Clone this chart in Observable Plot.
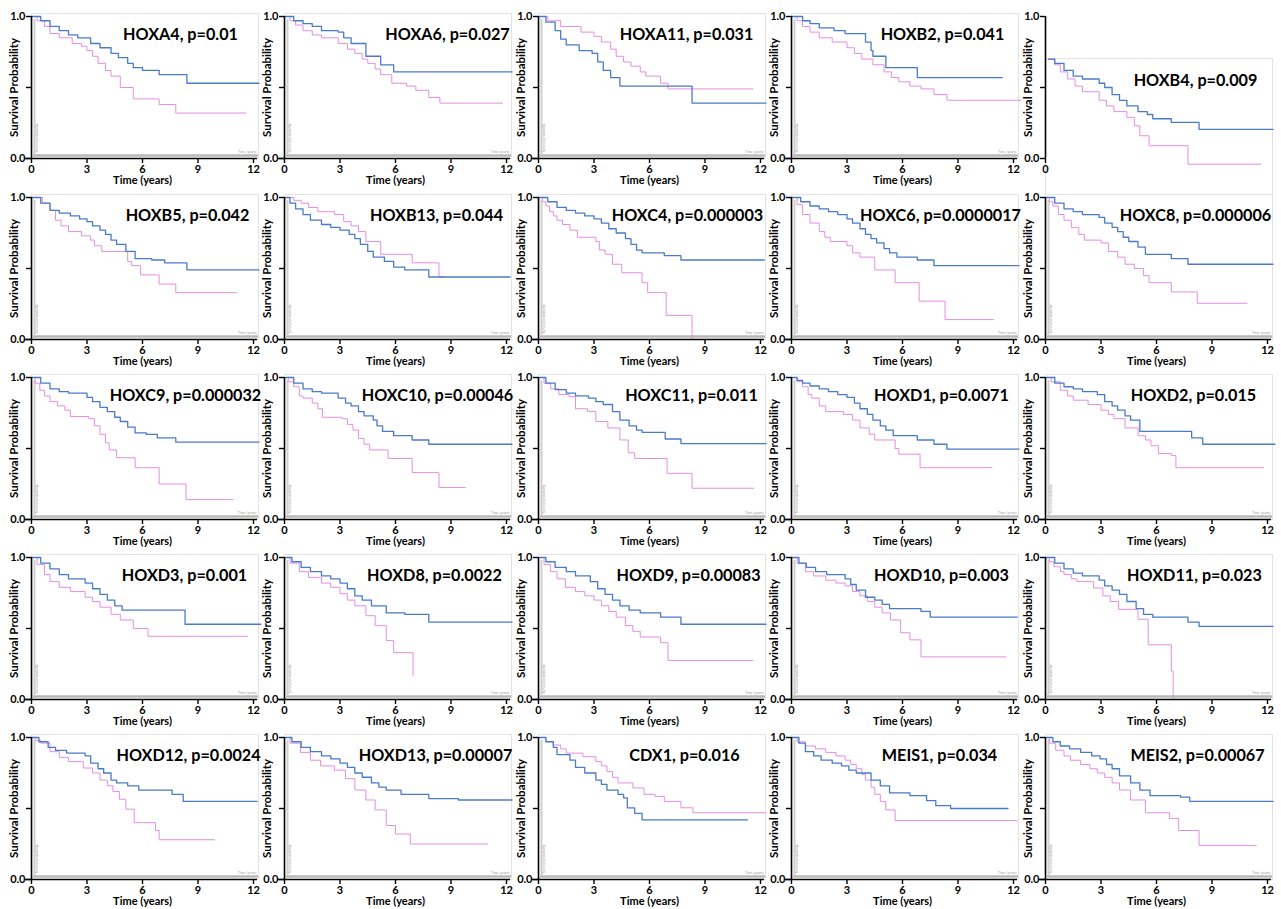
<!DOCTYPE html>
<html>
<head>
<meta charset="utf-8">
<script src="https://cdn.jsdelivr.net/npm/d3@7"></script>
<script src="https://cdn.jsdelivr.net/npm/@observablehq/plot@0.6"></script>
<style>
  html, body { margin: 0; padding: 0; background: #fff; }
  #grid { position: relative; width: 1281px; height: 909px; background: #fff; overflow: hidden; }
  #grid > div { position: absolute; }
  #grid svg { overflow: visible; }
</style>
</head>
<body>
<div id="grid"></div>
<script>
// ---------- DATA ----------
const genes = ["HOXA4","HOXA6","HOXA11","HOXB2","HOXB4",
               "HOXB5","HOXB13","HOXC4","HOXC6","HOXC8",
               "HOXC9","HOXC10","HOXC11","HOXD1","HOXD2",
               "HOXD3","HOXD8","HOXD9","HOXD10","HOXD11",
               "HOXD12","HOXD13","CDX1","MEIS1","MEIS2"];
const pValues = ["0.01","0.027","0.031","0.041","0.009",
                 "0.042","0.044","0.000003","0.0000017","0.000006",
                 "0.000032","0.00046","0.011","0.0071","0.015",
                 "0.001","0.0022","0.00083","0.003","0.023",
                 "0.0024","0.00007","0.016","0.034","0.00067"];
const xTicks = [0, 3, 6, 9, 12];
const yTicks = [0, 0.5, 1];

// Kaplan–Meier steps [time (years), survival] for the blue group
const blueCurves = [
  [[0,1],[0.5,0.97],[1,0.93],[1.5,0.9],[2,0.87],[2.5,0.85],[3,0.85],[3.2,0.81],[3.7,0.78],[4.3,0.74],[4.7,0.71],[5.2,0.67],[5.5,0.64],[6,0.62],[6.9,0.59],[8.4,0.53],[12.3,0.53]],
  [[0,1],[0.5,0.97],[1,0.95],[1.5,0.93],[2,0.9],[2.9,0.89],[3.2,0.85],[3.6,0.81],[4.4,0.72],[5.2,0.66],[5.9,0.61],[12.3,0.61]],
  [[0,1],[0.4,0.96],[0.9,0.9],[1.2,0.84],[1.5,0.8],[2.2,0.76],[2.9,0.74],[3.2,0.68],[3.5,0.62],[3.9,0.57],[4.4,0.51],[8.3,0.39],[12.3,0.39]],
  [[0,1],[0.6,0.97],[1,0.95],[1.5,0.92],[2.3,0.9],[2.9,0.88],[4,0.82],[4.3,0.76],[4.4,0.72],[5.1,0.64],[6.8,0.57],[11.4,0.57]],
  [[0.15,0.7],[0.5,0.67],[1,0.62],[1.5,0.58],[2,0.56],[2.9,0.53],[3.2,0.5],[3.6,0.45],[4,0.41],[4.4,0.37],[5,0.33],[5.5,0.31],[5.8,0.28],[6.8,0.255],[8.3,0.205],[12.3,0.205]],
  [[0,1],[0.5,0.96],[1,0.91],[1.5,0.89],[2.1,0.87],[2.6,0.85],[3,0.83],[3.3,0.8],[3.7,0.77],[4,0.74],[4.3,0.7],[4.6,0.67],[5.1,0.62],[5.6,0.57],[6.5,0.56],[7.2,0.54],[8.4,0.49],[12.3,0.49]],
  [[0,1],[0.3,0.96],[0.6,0.92],[1,0.88],[1.4,0.84],[2,0.81],[2.5,0.79],[3,0.77],[3.5,0.74],[3.8,0.71],[4.1,0.67],[4.5,0.62],[4.8,0.58],[5.4,0.55],[5.9,0.51],[6.5,0.49],[7.8,0.44],[12.2,0.44]],
  [[0,1],[0.5,0.97],[1,0.93],[1.5,0.91],[2,0.89],[2.5,0.87],[3,0.85],[3.4,0.82],[3.8,0.78],[4.2,0.75],[4.7,0.71],[5,0.67],[5.3,0.63],[5.6,0.61],[6.8,0.59],[7.7,0.56],[12.2,0.56]],
  [[0,1],[0.5,0.97],[1,0.94],[1.5,0.92],[2,0.9],[2.5,0.88],[3,0.85],[3.3,0.82],[3.7,0.78],[4,0.74],[4.3,0.71],[4.6,0.68],[5,0.64],[5.3,0.61],[5.7,0.58],[6.8,0.56],[7.7,0.52],[12.3,0.52]],
  [[0,1],[0.5,0.96],[1,0.92],[1.5,0.9],[2,0.88],[2.9,0.86],[3.2,0.82],[3.6,0.79],[3.9,0.76],[4.2,0.72],[4.5,0.69],[5,0.65],[5.4,0.6],[6.8,0.57],[7.7,0.53],[12.3,0.53]],
  [[0,1],[0.5,0.96],[1,0.92],[1.5,0.9],[2,0.89],[3,0.86],[3.3,0.83],[3.7,0.79],[4.1,0.76],[4.5,0.72],[4.8,0.69],[5.2,0.65],[5.6,0.61],[6.2,0.6],[6.8,0.575],[7.8,0.545],[12.3,0.545]],
  [[0,1],[0.5,0.96],[1,0.92],[1.5,0.9],[2,0.89],[2.9,0.855],[3.3,0.82],[3.6,0.8],[4,0.76],[4.3,0.73],[4.8,0.7],[5,0.66],[5.3,0.62],[5.9,0.59],[6.9,0.56],[7.8,0.53],[12.3,0.53]],
  [[0,1],[0.4,0.96],[0.9,0.915],[1.5,0.89],[2,0.87],[2.7,0.855],[3.1,0.83],[3.5,0.81],[4,0.76],[4.4,0.7],[4.9,0.66],[5.3,0.63],[5.6,0.614],[6.85,0.567],[7.7,0.535],[12.3,0.535]],
  [[0,1],[0.3,0.98],[0.6,0.96],[1,0.94],[1.5,0.92],[2,0.9],[2.5,0.88],[3,0.86],[3.4,0.82],[3.7,0.78],[4.1,0.74],[4.4,0.7],[4.8,0.66],[5.1,0.63],[5.5,0.59],[6.8,0.56],[7.7,0.53],[8.4,0.495],[12.3,0.495]],
  [[0,1],[0.5,0.96],[1,0.935],[1.5,0.92],[2,0.9],[2.8,0.88],[3.2,0.83],[3.6,0.8],[3.9,0.77],[4.3,0.73],[4.6,0.7],[5.1,0.62],[7.9,0.575],[8.5,0.53],[12.4,0.53]],
  [[0,1],[0.5,0.96],[1,0.92],[1.5,0.88],[2,0.85],[2.9,0.82],[3.3,0.78],[3.7,0.74],[4.1,0.7],[4.5,0.66],[4.9,0.63],[8.3,0.53],[12.4,0.53]],
  [[0,1],[0.4,0.97],[0.9,0.93],[1.4,0.9],[2,0.87],[2.5,0.85],[3,0.82],[3.4,0.78],[3.8,0.73],[4.2,0.7],[4.7,0.66],[5.5,0.61],[6.5,0.6],[7.8,0.545],[12.3,0.545]],
  [[0,1],[0.4,0.97],[0.9,0.93],[1.5,0.9],[2,0.87],[2.8,0.83],[3.2,0.78],[3.6,0.74],[4,0.7],[4.4,0.66],[4.9,0.63],[5.5,0.61],[6.6,0.58],[7.7,0.53],[12.3,0.53]],
  [[0,1],[0.4,0.96],[0.8,0.93],[1.3,0.9],[1.9,0.88],[2.9,0.85],[3.2,0.81],[3.5,0.77],[4,0.72],[4.5,0.7],[4.9,0.67],[5.3,0.64],[7,0.62],[7.5,0.58],[12.2,0.58]],
  [[0,1],[0.5,0.96],[1,0.92],[1.5,0.89],[2,0.87],[2.9,0.84],[3.2,0.8],[3.6,0.77],[4,0.74],[4.4,0.69],[4.9,0.64],[5.3,0.6],[5.8,0.58],[7.7,0.545],[8.3,0.515],[12.3,0.515]],
  [[0,1],[0.4,0.97],[0.9,0.93],[1.3,0.91],[1.9,0.89],[2.9,0.87],[3.2,0.82],[3.6,0.78],[3.9,0.75],[4.3,0.7],[4.6,0.68],[5.2,0.66],[5.8,0.63],[7.6,0.6],[8.2,0.55],[12.2,0.55]],
  [[0,1],[0.4,0.97],[0.9,0.93],[1.4,0.9],[2,0.87],[2.5,0.85],[3,0.82],[3.4,0.79],[3.8,0.75],[4.2,0.72],[4.7,0.68],[5.1,0.65],[5.5,0.63],[6.3,0.6],[7.8,0.57],[9.4,0.56],[12.3,0.56]],
  [[0,1],[0.4,0.97],[0.8,0.93],[1,0.88],[1.7,0.84],[2,0.79],[2.5,0.75],[3.1,0.7],[3.4,0.67],[3.7,0.63],[4.3,0.6],[4.6,0.575],[4.8,0.505],[5.2,0.465],[5.6,0.42],[11.3,0.42]],
  [[0,1],[0.4,0.96],[0.75,0.9],[1.2,0.87],[1.6,0.84],[2.2,0.82],[2.7,0.8],[3.1,0.77],[3.5,0.75],[4.3,0.7],[4.8,0.66],[5.3,0.61],[6.4,0.59],[7.3,0.555],[7.8,0.52],[8.6,0.5],[11.7,0.5]],
  [[0,1],[0.4,0.97],[0.8,0.94],[1.3,0.92],[1.9,0.895],[2.5,0.87],[2.95,0.85],[3.3,0.81],[3.6,0.78],[4,0.73],[4.6,0.68],[5.1,0.63],[5.65,0.59],[7.3,0.58],[7.8,0.55],[12.3,0.55]]
];

// Kaplan–Meier steps [time (years), survival] for the pink group
const pinkCurves = [
  [[0,1],[0.3,0.97],[0.7,0.93],[1,0.88],[1.5,0.85],[2.2,0.81],[2.7,0.79],[3,0.76],[3.3,0.72],[3.6,0.67],[4,0.62],[4.3,0.58],[4.8,0.5],[5.5,0.42],[6.9,0.38],[7.8,0.32],[11.6,0.32]],
  [[0,1],[0.3,0.97],[0.6,0.94],[1,0.9],[1.5,0.87],[2,0.85],[2.9,0.81],[3.4,0.77],[3.8,0.74],[4.2,0.7],[4.5,0.67],[4.9,0.63],[5.2,0.59],[5.8,0.53],[6.6,0.51],[7.1,0.48],[7.8,0.43],[8.4,0.39],[11.8,0.39]],
  [[0,1],[0.5,0.97],[1.2,0.93],[2.3,0.89],[3,0.86],[3.4,0.82],[3.9,0.77],[4.2,0.72],[4.6,0.68],[5,0.65],[5.5,0.61],[5.8,0.58],[6.6,0.53],[7,0.49],[11.6,0.49]],
  [[0,1],[0.3,0.97],[0.6,0.93],[1,0.89],[1.5,0.85],[2.2,0.82],[3,0.78],[3.4,0.74],[3.8,0.7],[4.4,0.66],[5,0.61],[5.4,0.57],[5.8,0.54],[6.4,0.51],[7,0.49],[7.7,0.45],[8.4,0.41],[12.4,0.41]],
  [[0.15,0.7],[0.5,0.66],[0.8,0.61],[1.2,0.56],[1.6,0.51],[2,0.47],[2.9,0.41],[3.3,0.37],[3.7,0.33],[4.4,0.29],[4.8,0.23],[5.1,0.16],[5.6,0.09],[7.7,-0.04],[11.65,-0.04]],
  [[0,1],[0.6,0.96],[1,0.91],[1.3,0.84],[1.6,0.8],[2,0.76],[2.7,0.73],[3.2,0.7],[3.4,0.66],[3.8,0.62],[5.2,0.55],[5.4,0.52],[5.9,0.455],[6.9,0.39],[7.8,0.33],[11.1,0.33]],
  [[0,1],[0.5,0.98],[0.9,0.96],[1.3,0.93],[1.8,0.9],[2.7,0.88],[3.2,0.83],[3.6,0.8],[4,0.76],[4.4,0.69],[5.2,0.6],[6.9,0.54],[8.35,0.44],[8.6,0.44]],
  [[0,1],[0.2,0.97],[0.4,0.94],[0.6,0.9],[0.8,0.87],[1,0.84],[1.3,0.81],[1.7,0.77],[2.1,0.72],[3.1,0.69],[3.3,0.63],[3.6,0.6],[4,0.53],[4.5,0.47],[5.6,0.4],[5.9,0.33],[6.9,0.17],[8.3,0]],
  [[0,1],[0.3,0.95],[0.6,0.88],[1,0.82],[1.5,0.76],[1.8,0.72],[2.1,0.69],[3,0.66],[3.3,0.61],[3.7,0.58],[4.5,0.49],[5.6,0.4],[6.9,0.27],[8.3,0.14],[10.95,0.14]],
  [[0,1],[0.2,0.97],[0.4,0.94],[0.7,0.88],[1,0.84],[1.4,0.79],[1.8,0.74],[2.1,0.7],[3,0.68],[3.4,0.62],[3.9,0.58],[4.3,0.53],[4.8,0.5],[5.3,0.45],[5.6,0.4],[6.8,0.335],[8.2,0.255],[10.9,0.255]],
  [[0,1],[0.2,0.96],[0.45,0.91],[0.7,0.87],[1,0.83],[1.4,0.8],[1.8,0.77],[2.1,0.725],[3.1,0.71],[3.4,0.66],[3.7,0.6],[4,0.54],[4.2,0.49],[4.6,0.435],[5.6,0.365],[6.9,0.25],[8.35,0.14],[10.9,0.14]],
  [[0,1],[0.2,0.97],[0.5,0.935],[0.8,0.87],[1,0.855],[1.5,0.82],[1.8,0.78],[2.05,0.72],[3.1,0.71],[3.4,0.67],[3.7,0.63],[4,0.57],[4.3,0.53],[4.6,0.49],[5.6,0.43],[6.9,0.33],[8.35,0.225],[9.8,0.225]],
  [[0,1],[0.3,0.96],[0.66,0.92],[1.1,0.88],[1.65,0.865],[2,0.78],[2.65,0.76],[3.1,0.69],[3.75,0.645],[4.4,0.56],[4.85,0.47],[5.2,0.43],[6.95,0.325],[8.3,0.22],[11.65,0.22]],
  [[0,1],[0.3,0.97],[0.6,0.935],[0.9,0.88],[1.1,0.855],[1.5,0.8],[1.85,0.76],[2.8,0.74],[3.3,0.7],[3.7,0.645],[4.2,0.6],[4.5,0.56],[5.6,0.5],[5.8,0.46],[6.95,0.365],[10.85,0.365]],
  [[0,1],[0.3,0.97],[0.8,0.91],[1.2,0.87],[1.5,0.84],[2.3,0.81],[3,0.77],[3.4,0.74],[3.7,0.71],[4.3,0.645],[5,0.59],[5.4,0.56],[5.7,0.52],[6.1,0.465],[6.8,0.45],[7.05,0.365],[11.8,0.365]],
  [[0,1],[0.3,0.95],[0.7,0.88],[1,0.83],[1.5,0.79],[2.1,0.76],[2.9,0.72],[3.3,0.69],[3.7,0.65],[4.3,0.6],[4.8,0.56],[5.5,0.5],[6.3,0.445],[11.7,0.445]],
  [[0,1],[0.3,0.96],[0.8,0.9],[1.3,0.86],[2,0.82],[2.5,0.79],[3,0.745],[3.4,0.7],[3.8,0.66],[4.4,0.59],[4.9,0.52],[5.5,0.415],[5.9,0.33],[6.95,0.17]],
  [[0,1],[0.3,0.95],[0.65,0.9],[1,0.85],[1.45,0.79],[2,0.76],[2.5,0.73],[3,0.7],[3.4,0.66],[3.8,0.62],[4.2,0.58],[4.7,0.52],[5.1,0.48],[5.5,0.44],[6.6,0.4],[7,0.275],[11.6,0.275]],
  [[0,1],[0.3,0.96],[0.75,0.9],[1.2,0.87],[1.85,0.84],[2.4,0.82],[2.9,0.8],[3.3,0.76],[3.7,0.73],[4.1,0.69],[4.5,0.65],[4.9,0.61],[5.35,0.56],[5.9,0.47],[6.4,0.42],[7,0.3],[11.6,0.3]],
  [[0,1],[0.2,0.97],[0.45,0.935],[0.8,0.9],[1,0.88],[1.4,0.85],[1.7,0.83],[2.6,0.785],[3.1,0.73],[3.5,0.69],[3.95,0.635],[5,0.565],[5.55,0.385],[6.8,0.2],[6.9,0]],
  [[0,1],[0.2,0.98],[0.5,0.96],[1,0.9],[1.5,0.86],[2,0.83],[2.8,0.785],[3.3,0.75],[3.7,0.7],[4.1,0.66],[4.4,0.62],[4.75,0.565],[5.1,0.495],[5.55,0.4],[6.7,0.345],[6.9,0.28],[9.9,0.28]],
  [[0,1],[0.3,0.96],[0.86,0.895],[1.4,0.84],[1.95,0.8],[2.7,0.77],[3.3,0.71],[3.8,0.63],[4.4,0.56],[4.9,0.49],[5.5,0.38],[6,0.32],[6.8,0.25],[11,0.25]],
  [[0,1],[0.4,0.97],[0.8,0.947],[1.2,0.92],[1.5,0.89],[2.4,0.865],[3.1,0.83],[3.4,0.8],[3.7,0.76],[4,0.72],[4.3,0.68],[5.1,0.645],[5.7,0.6],[6.3,0.585],[6.8,0.55],[7.7,0.505],[8.35,0.47],[12.3,0.47]],
  [[0,1],[0.3,0.97],[0.75,0.94],[1.3,0.92],[1.85,0.895],[2.4,0.87],[2.9,0.84],[3.2,0.81],[3.5,0.78],[3.8,0.74],[4,0.7],[4.3,0.65],[4.5,0.6],[4.8,0.55],[5.1,0.49],[5.6,0.415],[12.2,0.415]],
  [[0,1],[0.2,0.96],[0.55,0.91],[1,0.87],[1.35,0.84],[1.9,0.81],[2.4,0.78],[2.8,0.75],[3.2,0.72],[3.6,0.68],[4,0.63],[4.6,0.56],[5.4,0.47],[6.7,0.43],[7.2,0.345],[8.3,0.24],[11.4,0.24]]
];

// ---------- LAYOUT / STYLE ----------
const colLeft = [0, 253, 507, 760, 1014];
const rowTop = [0, 180.5, 361, 541, 721];
const titleDx = [149,163,148,151,150, 156,152,149,149,150, 154,153,153,150,148, 153,150,150,150,149, 157,151,146,148,152];
const BLUE = "#4a7bcb";
const PINK = "#e48ee1";

const grid = document.getElementById("grid");

genes.forEach((g, i) => {
  const r = Math.floor(i / 5), c = i % 5;
  const special = g === "HOXB4";
  const blue = blueCurves[i].map(([t, s]) => ({t, s}));
  const pink = pinkCurves[i].map(([t, s]) => ({t, s}));
  const marks = [
    // pasted inner-image frame and its faint axes
    Plot.frame({stroke: "#e3e3e3", strokeWidth: 1, insetTop: special ? 42 : -3, insetRight: -5, insetBottom: special ? -36 : 0}),
    special ? null : Plot.ruleY([0], {stroke: "#b8b8b8", strokeWidth: 2.5, dy: -3, insetLeft: 2, insetRight: -5}),
    special ? null : Plot.ruleX([0], {stroke: "#cfcfcf", strokeWidth: 2, dx: 3, insetTop: 3, insetBottom: 3}),
    special ? null : Plot.text(["Survival probability"], {text: d => d, frameAnchor: "bottom-left", rotate: -90, dx: 6, dy: -6, fontSize: 3.5, fill: "#999", textAnchor: "start", fontWeight: "normal"}),
    special ? null : Plot.text(["Time (years)"], {text: d => d, frameAnchor: "bottom-right", dx: 3, dy: -6, fontSize: 3.5, fill: "#999", textAnchor: "end", fontWeight: "normal"}),
    // curves
    Plot.line(pink, {x: "t", y: "s", curve: "step-after", stroke: PINK, strokeWidth: 1}),
    Plot.line(blue, {x: "t", y: "s", curve: "step-after", stroke: BLUE, strokeWidth: 1.3}),
    // outer axes
    Plot.ruleX([0], {stroke: "black", strokeWidth: 1.6}),
    special ? null : Plot.ruleY([0], {stroke: "black", strokeWidth: 1.6, insetLeft: -6, insetRight: -4}),
    Plot.axisY({ticks: yTicks, tickSize: 5, tickPadding: 1, tickFormat: d => d === 0.5 ? "" : d.toFixed(1), fontSize: 11, label: null, strokeWidth: 1.4}),
    Plot.axisX({ticks: special ? [0] : xTicks, tickSize: 5, tickPadding: 2, tickFormat: d => String(d), fontSize: 11, label: null, strokeWidth: 1.4}),
    Plot.text(["Survival Probability"], {text: d => d, frameAnchor: "left", rotate: -90, dx: -17, fontSize: 11.5, textAnchor: "middle", lineAnchor: "middle"}),
    special ? null : Plot.text(["Time (years)"], {text: d => d, frameAnchor: "bottom", dy: 25, fontSize: 11, textAnchor: "middle"}),
    // title
    Plot.text([`${g}, p=${pValues[i]}`], {text: d => d, frameAnchor: "top-left", dx: titleDx[i], dy: special ? 64 : 18, fontSize: 16.2, textAnchor: "middle", lineAnchor: "middle"})
  ].filter(Boolean);

  const chart = Plot.plot({
    width: 262,
    height: 182,
    marginLeft: 31,
    marginRight: 9,
    marginTop: 16,
    marginBottom: 24,
    x: {domain: [0, 12]},
    y: {domain: [0, 1]},
    style: {fontFamily: "Lato, 'Open Sans', sans-serif", fontWeight: "bold", overflow: "visible", background: "transparent", color: "black"},
    marks
  });
  const cell = document.createElement("div");
  cell.style.left = colLeft[c] + "px";
  cell.style.top = rowTop[r] + "px";
  cell.appendChild(chart);
  grid.appendChild(cell);
});
</script>
</body>
</html>
